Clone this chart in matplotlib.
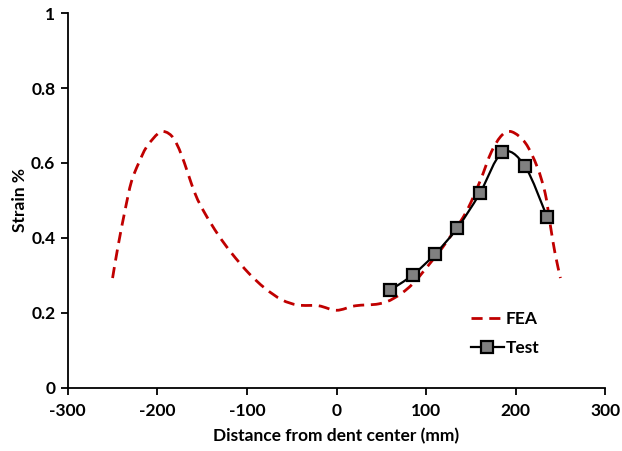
import numpy as np
import matplotlib
matplotlib.use('Agg')
import matplotlib.pyplot as plt
from matplotlib.path import Path
from matplotlib.patches import PathPatch
from matplotlib.lines import Line2D

plt.rcParams['font.family'] = ['Lato', 'DejaVu Sans']
plt.rcParams['font.weight'] = 'bold'
plt.rcParams['axes.unicode_minus'] = False

# FEA strain profile
fea_x = [-250, -244, -236, -229, -221, -212, -199, -191, -182, -173, -158, -147, -132,
         -117, -98, -80, -61, -43, -20, 0, 21, 47, 64, 84, 106, 123, 144, 160, 173,
         185, 196, 211, 224, 233, 239, 244, 250]
fea_y = [0.293, 0.377, 0.475, 0.550, 0.599, 0.643, 0.679, 0.683, 0.666, 0.621, 0.519,
         0.466, 0.408, 0.359, 0.306, 0.266, 0.235, 0.221, 0.219, 0.207, 0.219, 0.224,
         0.239, 0.275, 0.337, 0.390, 0.466, 0.550, 0.630, 0.675, 0.683, 0.653, 0.590,
         0.519, 0.430, 0.359, 0.293]

# Test measurements
test_x = [60, 85, 110, 135, 160, 185, 210, 235]
test_y = [0.261, 0.301, 0.357, 0.427, 0.519, 0.628, 0.593, 0.457]

x_ticks = [-300, -200, -100, 0, 100, 200, 300]
y_ticks = [0, 0.2, 0.4, 0.6, 0.8, 1]
y_tick_labels = ['0', '0.2', '0.4', '0.6', '0.8', '1']


def smooth_path(xs, ys):
    # Catmull-Rom through the points, drawn as cubic Bezier (like Excel "smoothed line")
    p = np.column_stack([xs, ys]).astype(float)
    n = len(p)
    verts = [p[0]]
    codes = [Path.MOVETO]
    for i in range(n - 1):
        p0 = p[i - 1] if i > 0 else p[i]
        p3 = p[i + 2] if i + 2 < n else p[i + 1]
        c1 = p[i] + (p[i + 1] - p0) / 6.0
        c2 = p[i + 1] - (p3 - p[i]) / 6.0
        verts += [c1, c2, p[i + 1]]
        codes += [Path.CURVE4] * 3
    return Path(verts, codes)


fig = plt.figure(figsize=(6.22, 4.51), dpi=100)
ax = fig.add_axes([0.109, 0.140, 0.864, 0.831])

red = '#C00000'
fea_dash = (0, (4, 2.4))
ax.add_patch(PathPatch(smooth_path(fea_x, fea_y), fill=False, edgecolor=red,
                       lw=2.0, linestyle=fea_dash, capstyle='butt', zorder=2))
ax.add_patch(PathPatch(smooth_path(test_x, test_y), fill=False, edgecolor='black',
                       lw=1.6, zorder=3))
ax.plot(test_x, test_y, ls='none', marker='s', ms=9, mfc='#808080', mec='black',
        mew=1.6, zorder=4)

ax.set_xlim(-300, 300)
ax.set_ylim(0, 1)
ax.set_xticks(x_ticks)
ax.set_yticks(y_ticks)
ax.set_yticklabels(y_tick_labels)
ax.tick_params(labelsize=12.5, length=5, width=1.3, direction='out', pad=4)
ax.tick_params(axis='x', pad=6)

for side in ['top', 'right']:
    ax.spines[side].set_visible(False)
for side in ['left', 'bottom']:
    ax.spines[side].set_linewidth(1.3)

ax.set_xlabel('Distance from dent center (mm)', fontsize=12.5, fontweight='bold', labelpad=6)
ax.set_ylabel('Strain %', fontsize=12.5, fontweight='bold', labelpad=2)

handles = [
    Line2D([], [], color=red, lw=2.0, linestyle=(0, (4, 2.4))),
    Line2D([], [], color='black', lw=1.6, marker='s', ms=9, mfc='#808080',
           mec='black', mew=1.6),
]
leg = ax.legend(handles, ['FEA', 'Test'], loc='center left',
                bbox_to_anchor=(0.75, 0.145), frameon=False, fontsize=12.5,
                handlelength=1.9, handletextpad=0.1, labelspacing=0.75,
                borderpad=0, borderaxespad=0)

fig.savefig('out.png', dpi=100)
